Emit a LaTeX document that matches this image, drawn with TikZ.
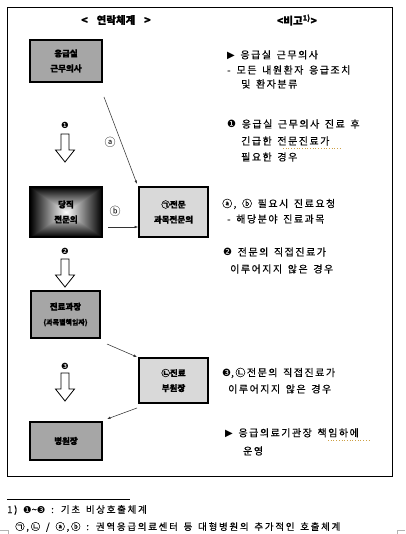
\documentclass[tikz,border=0pt]{standalone}
\usepackage{fontspec}
\setmainfont{Noto Sans CJK KR}[WordSpace=1.5]
\newfontfamily\krsp{Noto Sans CJK KR}[LetterSpace=15, WordSpace=1.5, FakeBold=0.4]
\newfontfamily\krft{Noto Sans CJK KR}[LetterSpace=18, WordSpace=1.5, FakeBold=0.3]
\newfontfamily\krbx{Noto Sans CJK KR}[BoldFeatures={FakeBold=0.8}]
\newfontfamily\djv{DejaVu Sans}
\usetikzlibrary{arrows.meta,calc}
\definecolor{boxgray}{RGB}{166,166,166}
\definecolor{boxlight}{RGB}{217,217,217}
\definecolor{spell}{RGB}{205,160,70}
\pgfdeclarefunctionalshading{sqgrad}{\pgfpointorigin}{\pgfpoint{100bp}{100bp}}{}{50 sub abs exch 50 sub abs 2 copy sub abs add add 2 div 25 div 1 exch sub dup dup}
\tikzset{
  box/.style={draw, line width=1.6pt, align=center, inner sep=0pt,
    font=\krbx\bfseries\fontsize{8.5}{15}\selectfont},
  dkbox/.style={box, fill=boxgray},
  ltbox/.style={box, fill=boxlight},
  gradbox/.style={box, shading=sqgrad},
  note/.style={anchor=west, inner sep=0pt, font=\krsp\fontsize{10}{12}\selectfont},
  foot/.style={anchor=west, inner sep=0pt, font=\krft\fontsize{9.5}{11}\selectfont},
  head/.style={inner sep=0pt, font=\krbx\bfseries\fontsize{10.5}{12}\selectfont},
  lbl/.style={inner sep=0pt, font=\fontsize{11}{12}\selectfont},
  num/.style={inner sep=0pt, font=\djv\fontsize{8.5}{10}\selectfont},
  thinarrow/.style={draw=black!80, line width=0.55pt, -{Latex[length=3.5pt,width=2.6pt]}},
  harrow/.pic={\draw[line width=0.8pt, fill=white, line join=miter]
     (-4,0) -- (4,0) -- (4,16) -- (9.5,16) -- (0,28) -- (-9.5,16) -- (-4,16) -- cycle;}
}
\begin{document}
\begin{tikzpicture}[x=1pt,y=-1pt]
\useasboundingbox (0,0) rectangle (405,534);
% frame
\draw[line width=0.8pt] (7.5,7) rectangle (392,476);
% headers
\node[head] (h1) at (116,20) {<\hspace{9pt}연락체계\hspace{9pt}>};
\node[head] (h2) at (297,20) {<비고\textsuperscript{1)}>};
% boxes
\node[dkbox, minimum width=72pt, minimum height=42pt] (b1) at (66,61) {응급실\\근무의사};
\node[gradbox, minimum width=72pt, minimum height=50pt] (b2) at (66,212) {당직\\전문의};
\node[ltbox, minimum width=69pt, minimum height=50pt] (b3) at (173.5,212) {㉠전문\\과목전문의};
\node[dkbox, minimum width=69pt, minimum height=47pt] (b4) at (65.5,314.5) {진료과장\\{\fontsize{7}{8}\selectfont (과목별책임자)}};
\node[ltbox, minimum width=69pt, minimum height=45pt] (b5) at (173.5,380.5) {㉡진료\\부원장};
\node[dkbox, minimum width=72pt, minimum height=38pt] (b6) at (66,441) {병원장};
% hollow arrows and numbers
\node[num] (n1) at (65,125) {❶};
\pic at (65,134) {harrow};
\node[num] (n2) at (65,251) {❷};
\pic at (65,259) {harrow};
\node[num] (n3) at (65,366) {❸};
\pic at (65,373) {harrow};
% thin arrows
\coordinate (d1s) at (104,97);
\coordinate (d1e) at (137,184);
\draw[thinarrow] (d1s) -- (d1e);
\node[lbl] (la) at (110,142) {ⓐ};
\coordinate (d2s) at (108,227);
\draw[thinarrow] (d2s) -- (d2s -| b3.west);
\node[lbl] (lb) at (115,211) {ⓑ};
\coordinate (d3s) at (107,344);
\coordinate (d3e) at (137,357);
\draw[thinarrow] (d3s) -- (d3e);
\coordinate (d4s) at (137,408);
\coordinate (d4e) at (107,419);
\draw[thinarrow] (d4s) -- (d4e);
% notes
\node[note] (t1a) at (227,55) {{\djv ▶} 응급실 근무의사};
\node[note] (t1b) at (227,70) {-\hspace{6pt}모든 내원환자 응급조치};
\node[note] (t1c) at (241,84) {및 환자분류};
\node[note] (t2a) at (227,124) {{\djv ❶} 응급실 근무의사 진료 후};
\node[note] (t2b) at (241,141) {긴급한 전문진료가};
\node[note] (t2c) at (241,157) {필요한 경우};
\node[note] (t3a) at (222,204) {ⓐ, ⓑ 필요시 진료요청};
\node[note] (t3b) at (227,219) {- 해당분야 진료과목};
\node[note] (t4a) at (223,252) {{\djv ❷} 전문의 직접진료가};
\node[note] (t4b) at (230,269) {이루어지지 않은 경우};
\node[note] (t5a) at (222,373) {{\djv ❸},㉡전문의 직접진료가};
\node[note] (t5b) at (228,389) {이루어지지 않은 경우};
\node[note] (t6a) at (225,433) {{\djv ▶} 응급의료기관장 책임하에};
\node[note] (t6b) at (243,451) {운영};
% spell-check underlines
\draw[spell, dotted, line width=0.7pt] (283,148) -- (340,148);
\draw[spell, dotted, line width=0.7pt] (328,440) -- (370,440);
% footnote
\draw[line width=0.6pt] (7,499) -- (130,499);
\node[foot] (f1) at (7,510) {1) {\djv ❶}\char"7E{\djv ❸} : 기초 비상호출체계};
\node[foot] (f2) at (15,527) {㉠,㉡ / ⓐ,ⓑ : 권역응급의료센터 등 대형병원의 추가적인 호출체계};
% page corner marks
\draw[black!30, line width=0.5pt] (0,530) -- (8,530) -- (8,534);
\draw[black!30, line width=0.5pt] (405,530) -- (397,530) -- (397,534);
\end{tikzpicture}
\end{document}
